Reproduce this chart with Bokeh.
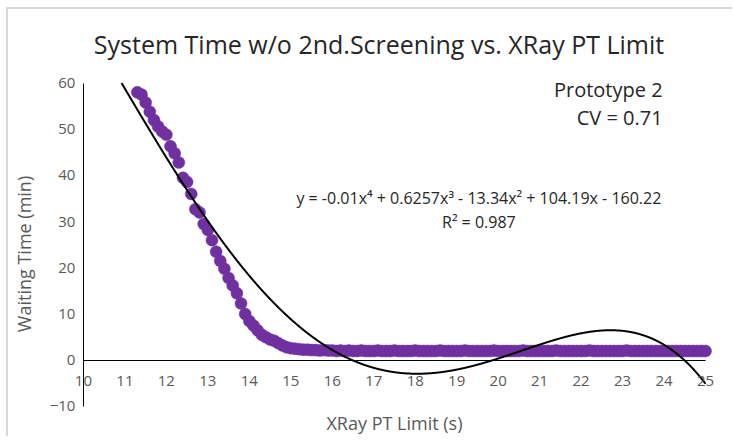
import numpy as np
from bokeh.plotting import figure
from bokeh.models import Range1d, Label, FixedTicker, LinearAxis, Title
from bokeh.embed import file_html
from bokeh.resources import INLINE

# ---- data ----
xray_limit = [
    11.3, 11.4, 11.5, 11.6, 11.7, 11.8, 11.9, 12.0, 12.1, 12.2,
    12.3, 12.4, 12.5, 12.6, 12.7, 12.8, 12.9, 13.0, 13.1, 13.2,
    13.3, 13.4, 13.5, 13.6, 13.7, 13.8, 13.9, 14.0, 14.1, 14.2,
    14.3, 14.4, 14.5, 14.6, 14.7, 14.8, 14.9, 15.0, 15.1, 15.2,
    15.3, 15.4, 15.5, 15.6, 15.7, 15.8, 15.9, 16.0, 16.1, 16.2,
    16.3, 16.4, 16.5, 16.6, 16.7, 16.8, 16.9, 17.0, 17.1, 17.2,
    17.3, 17.4, 17.5, 17.6, 17.7, 17.8, 17.9, 18.0, 18.1, 18.2,
    18.3, 18.4, 18.5, 18.6, 18.7, 18.8, 18.9, 19.0, 19.1, 19.2,
    19.3, 19.4, 19.5, 19.6, 19.7, 19.8, 19.9, 20.0, 20.1, 20.2,
    20.3, 20.4, 20.5, 20.6, 20.7, 20.8, 20.9, 21.0, 21.1, 21.2,
    21.3, 21.4, 21.5, 21.6, 21.7, 21.8, 21.9, 22.0, 22.1, 22.2,
    22.3, 22.4, 22.5, 22.6, 22.7, 22.8, 22.9, 23.0, 23.1, 23.2,
    23.3, 23.4, 23.5, 23.6, 23.7, 23.8, 23.9, 24.0, 24.1, 24.2,
    24.3, 24.4, 24.5, 24.6, 24.7, 24.8, 24.9, 25.0,
]
waiting_time = [
    58.0, 57.5, 55.8, 53.8, 52.0, 50.6, 49.5, 48.8, 46.3, 44.8,
    42.8, 39.5, 38.6, 36.0, 32.7, 32.0, 29.5, 28.2, 26.0, 23.5,
    21.5, 19.8, 17.8, 16.2, 14.5, 12.3, 10.0, 8.5, 7.5, 6.5,
    5.5, 5.0, 4.5, 4.2, 3.7, 3.2, 2.8, 2.6, 2.5, 2.4,
    2.3, 2.3, 2.2, 2.2, 2.1, 2.2, 2.1, 2.1, 2.0, 2.1,
    2.0, 2.1, 2.0, 2.0, 2.1, 2.0, 2.0, 2.0, 2.1, 2.0,
    2.0, 2.0, 2.1, 2.0, 2.0, 2.0, 2.0, 2.1, 2.0, 2.0,
    2.0, 2.0, 2.0, 2.1, 2.0, 2.0, 2.0, 2.0, 2.0, 2.1,
    2.0, 2.0, 2.0, 2.0, 2.0, 2.0, 2.1, 2.0, 2.0, 2.0,
    2.0, 2.0, 2.0, 2.1, 2.0, 2.0, 2.0, 2.0, 2.0, 2.0,
    2.0, 2.1, 2.0, 2.0, 2.0, 2.0, 2.0, 2.0, 2.0, 2.1,
    2.0, 2.0, 2.0, 2.0, 2.0, 2.0, 2.0, 2.0, 2.1, 2.0,
    2.0, 2.0, 2.0, 2.0, 2.0, 2.0, 2.0, 2.0, 2.0, 2.0,
    2.0, 2.0, 2.0, 2.0, 2.0, 2.0, 2.0, 2.0,
]
# polynomial trend line coefficients (x^4 .. x^0), as shown on the chart
trend_coeffs = [-0.009955, 0.6257, -13.34, 104.19, -160.22]

x_ticks = [10, 11, 12, 13, 14, 15, 16, 17, 18, 19, 20, 21, 22, 23, 24, 25]
y_ticks = [-10, 0, 10, 20, 30, 40, 50, 60]

title_text = "System Time w/o 2nd.Screening vs. XRay PT Limit"
x_title = "XRay PT Limit (s)"
y_title = "Waiting Time (min)"
equation_text = "y = -0.01x\u2074 + 0.6257x\u00b3 - 13.34x\u00b2 + 104.19x - 160.22"
r2_text = "R\u00b2 = 0.987"
proto_text = "Prototype 2"
cv_text = "CV = 0.71"

FONT = "Open Sans"
PURPLE = "#7030A0"
TICK_COLOR = "#595959"
TEXT_COLOR = "#262626"

# trend line evaluated over the axis span, cut at the axis maximum
trend_x = np.linspace(x_ticks[0], x_ticks[-1], 6000)
trend_y = np.polyval(trend_coeffs, trend_x)
trend_y = np.where(trend_y <= y_ticks[-1], trend_y, np.nan)

p = figure(
    width=726, height=429,
    output_backend="svg", toolbar_location=None,
    x_range=Range1d(8.989, 25.265), y_range=Range1d(-16.5, 62.5),
    min_border_left=32, min_border_right=18,
    min_border_top=62, min_border_bottom=2,
)
p.styles = {"margin-left": "6px", "margin-top": "7px",
            "border-style": "solid none none solid",
            "border-color": "#d9d9d9",
            "border-width": "2px 0px 0px 2px"}
p.outline_line_color = None
p.grid.visible = False

p.scatter(xray_limit, waiting_time, size=12, marker="circle",
          fill_color=PURPLE, line_color=PURPLE, line_width=0.5)
p.line(trend_x, trend_y, line_color="black", line_width=2)

xa = p.xaxis[0]
xa.fixed_location = 0
xa.bounds = (x_ticks[0], x_ticks[-1])
xa.ticker = FixedTicker(ticks=x_ticks)
xa.axis_line_color = "black"
xa.major_tick_line_color = None
xa.minor_tick_line_color = None
xa.major_tick_out = 0
xa.major_tick_in = 0
xa.major_label_standoff = 16
xa.major_label_text_font = FONT
xa.major_label_text_font_size = "15px"
xa.major_label_text_color = TICK_COLOR

ya = p.yaxis[0]
ya.fixed_location = x_ticks[0]
ya.bounds = (y_ticks[0], y_ticks[-1])
ya.ticker = FixedTicker(ticks=y_ticks)
ya.axis_line_color = "black"
ya.major_tick_line_color = None
ya.minor_tick_line_color = None
ya.major_tick_out = 0
ya.major_tick_in = 0
ya.major_label_standoff = 8
ya.major_label_text_font = FONT
ya.major_label_text_font_size = "15px"
ya.major_label_text_color = TICK_COLOR

yt = LinearAxis(ticker=FixedTicker(ticks=[]), axis_line_color=None,
                major_tick_line_color=None, minor_tick_line_color=None,
                major_tick_out=0, major_tick_in=0, minor_tick_out=0,
                axis_label=y_title, axis_label_standoff=6,
                axis_label_text_font=FONT, axis_label_text_font_size="18px",
                axis_label_text_font_style="normal",
                axis_label_text_color=TICK_COLOR)
p.add_layout(yt, "left")

p.add_layout(Title(text=title_text, align="center", text_font=FONT,
                   text_font_size="25px", text_font_style="normal",
                   text_color=TEXT_COLOR, standoff=21), "above")

def add_label(x, y, text, size, align="center", color=TEXT_COLOR):
    p.add_layout(Label(x=x, y=y, text=text, text_font=FONT,
                       text_font_size=size, text_color=color,
                       text_align=align, text_baseline="middle"))

add_label(17.5, -13.6, x_title, "18px", color=TICK_COLOR)
add_label(19.535, 35.1, equation_text, "16px")
add_label(19.535, 29.9, r2_text, "16px")
add_label(23.965, 58.7, proto_text, "20px", align="right")
add_label(23.965, 52.6, cv_text, "20px", align="right")

open("out.html", "w").write(file_html(p, INLINE))
